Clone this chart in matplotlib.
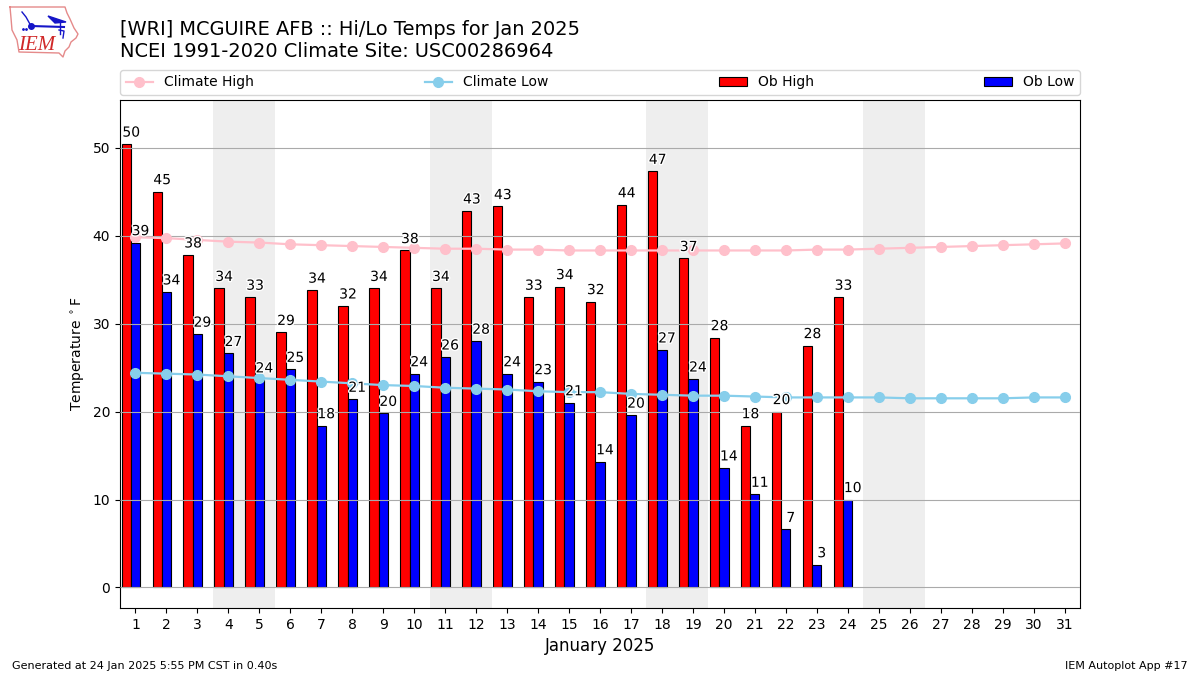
import matplotlib
matplotlib.use("Agg")
import matplotlib.pyplot as plt
import matplotlib.patheffects as PathEffects
import numpy as np

days = list(range(1, 32))
ob_high = [50.4, 45.0, 37.8, 34.0, 33.0, 29.0, 33.8, 32.0, 34.0, 38.3, 34.0, 42.8,
           43.3, 33.0, 34.2, 32.5, 43.5, 47.3, 37.4, 28.4, 18.4, 20.0, 27.5, 33.0]
ob_low = [39.2, 33.6, 28.8, 26.6, 23.6, 24.8, 18.4, 21.4, 19.8, 24.3, 26.2, 28.0,
          24.3, 23.4, 21.0, 14.3, 19.6, 27.0, 23.7, 13.6, 10.6, 6.6, 2.6, 10.0]
climate_high = [39.8, 39.7, 39.5, 39.3, 39.2, 39.0, 38.9, 38.8, 38.7, 38.6, 38.5,
                38.5, 38.4, 38.4, 38.3, 38.3, 38.3, 38.3, 38.3, 38.3, 38.3, 38.3,
                38.4, 38.4, 38.5, 38.6, 38.7, 38.8, 38.9, 39.0, 39.1]
climate_low = [24.4, 24.3, 24.2, 24.0, 23.8, 23.6, 23.4, 23.2, 23.0, 22.9, 22.7,
               22.6, 22.5, 22.3, 22.2, 22.2, 22.0, 21.9, 21.8, 21.8, 21.7, 21.6,
               21.6, 21.6, 21.6, 21.5, 21.5, 21.5, 21.5, 21.6, 21.6]
weekends = [(3.5, 5.5), (10.5, 12.5), (17.5, 19.5), (24.5, 26.5)]

title = ("[WRI] MCGUIRE AFB :: Hi/Lo Temps for Jan 2025\n"
         "NCEI 1991-2020 Climate Site: USC00286964")

# logo outline, in figure pixels
iowa_x = [10, 65, 67, 70, 74, 78, 76, 71, 69, 65, 63, 59, 19, 17, 12, 11, 10]
iowa_y = [7, 7, 13, 19, 28, 34, 38, 42, 47, 51, 57, 53, 52, 40, 30, 18, 7]
wing_x = [48, 57, 66, 55, 48]
wing_y = [16, 19, 22, 23, 16]

fig = plt.figure(figsize=(12, 6.75), dpi=100)

# logo
logo = fig.add_axes([0, 0, 1, 1], zorder=0)
logo.set_xlim(0, 1200)
logo.set_ylim(675, 0)
logo.axis("off")
logo.plot(iowa_x, iowa_y, color="#e58a8a", lw=1)
logo.fill(wing_x, wing_y, color="#1515c8")
logo.plot([31, 64], [26, 27], color="#1515c8", lw=1.5)
logo.plot([31], [26], "o", color="#1515c8", ms=4)
logo.plot([31, 26, 22], [26, 17, 12], color="#1515c8", lw=1)
logo.plot([60, 60], [23, 34], color="#1515c8", lw=1)
logo.plot([59, 64, 63], [30, 31, 38], color="#1515c8", lw=1)
logo.plot([23, 26], [29, 29], ".", color="#1515c8", ms=2)
logo.text(37, 45, "IEM", color="#d02828", ha="center", va="center", fontsize=15,
          family="Liberation Serif", style="italic")

ax = fig.add_axes([0.1, 67 / 675, 0.8, 508 / 675], zorder=1)

for start, end in weekends:
    ax.axvspan(start, end, color="#eeeeee", lw=0, zorder=0)

x = np.array(days)
obs_x = x[:len(ob_high)]
ax.bar(obs_x - 0.3, ob_high, width=0.3, color="r", edgecolor="k", lw=0.8,
       label="Ob High", zorder=2)
ax.bar(obs_x, ob_low, width=0.3, color="b", edgecolor="k", lw=0.8,
       label="Ob Low", zorder=2)
ax.plot(x, climate_high, color="pink", marker="o", ms=7, lw=1.6, label="Climate High", zorder=4)
ax.plot(x, climate_low, color="skyblue", marker="o", ms=7, lw=1.6, label="Climate Low", zorder=4)

ax.grid(True, axis="y", color="#aaaaaa", lw=0.8, zorder=3)
ax.set_axisbelow(False)
for tick in ax.yaxis.get_gridlines():
    tick.set_zorder(3)

halo = [PathEffects.withStroke(linewidth=2, foreground="white")]
for i, val in enumerate(ob_high):
    ax.text(obs_x[i] - 0.14, val + 0.5, "%.0f" % val, ha="center", va="bottom",
            fontsize=10, zorder=5, path_effects=halo)
for i, val in enumerate(ob_low):
    ax.text(obs_x[i] + 0.16, val + 0.5, "%.0f" % val, ha="center", va="bottom",
            fontsize=10, zorder=5, path_effects=halo)

ax.set_xlim(0.5, 31.5)
ax.set_ylim(-2.33, 55.4)
ax.set_xticks(days)
ax.set_yticks(range(0, 51, 10))
ax.set_xlabel("January 2025", fontsize=12)
ax.set_ylabel(r"Temperature $^\circ$F", fontsize=10)
ax.legend(loc="lower left", bbox_to_anchor=(0, 1.01, 1, 0.05), mode="expand",
          ncol=4, borderaxespad=0)

fig.text(0.1, 1 - 61 / 675, title, fontsize=13.95, ha="left", va="bottom")
fig.text(0.01, 1 - 666 / 675, "Generated at 24 Jan 2025 5:55 PM CST in 0.40s",
         fontsize=8, va="center")
fig.text(0.99, 1 - 666 / 675, "IEM Autoplot App #17", fontsize=8, ha="right", va="center")

fig.savefig("out.png", dpi=100)
